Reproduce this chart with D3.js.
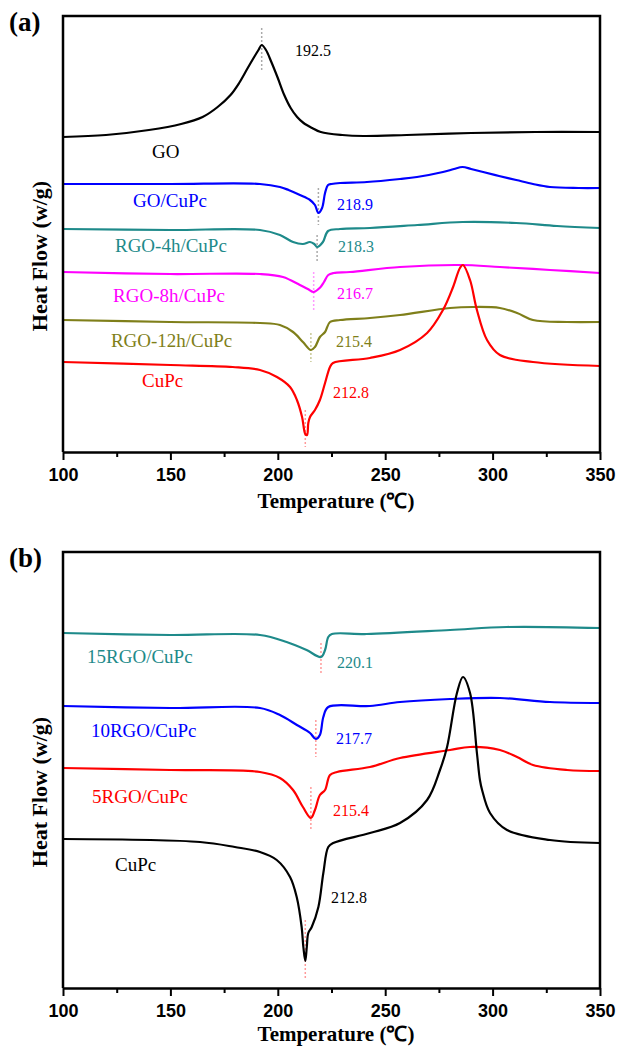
<!DOCTYPE html>
<html>
<head>
<meta charset="utf-8">
<script src="https://cdn.jsdelivr.net/npm/d3@7"></script>
<style>
body { margin: 0; background: #fff; }
text { font-family: "Liberation Serif", "Times New Roman", serif; }
</style>
</head>
<body>
<script>
// temperature ticks
var xTicks = [100, 150, 200, 250, 300, 350];
var xMinorTicks = [125, 175, 225, 275, 325];

// panel (a) curves: [temperature, heat flow (a.u., offset)]
var goA = [[100,315],[120,317],[140,322],[155,328],[165,335],[172,345],[178,357],[182,369],[186,384],[189,395],[191,402],[192.5,407],[194.5,402],[197,390],[200,374],[203,357],[206,344],[209,335],[212,329],[216,324],[220,320],[230,317],[240,316],[260,317],[290,319],[320,320],[350,320]];
var goCuPcA = [[100,268],[150,268],[191.7,268],[201,265],[205,262],[210.3,257],[215,252],[217.3,247],[218.9,239],[220.6,244],[222,259],[223.4,267],[225,268],[229,269],[241.5,270],[256.9,273],[264.8,275],[276.9,280],[282,283],[286,285],[290,283],[295.6,280],[303,276],[311,272],[318.8,268],[326.7,265],[340,264],[350,264]];
var rgo4hA = [[100,223],[150,222],[191.7,222],[201,217],[207.1,210],[211.7,208],[215,210],[217,208],[218.3,205],[221,210],[223.4,221],[229,223],[242.9,224],[265,227],[286,230],[311,229],[330,226],[350,224]];
var rgo8hA = [[100,180],[150,178],[191.7,178],[202.4,175],[210.3,167],[214,163],[216.7,160],[219.5,164],[221.5,170],[223.5,177],[226,179],[233.6,180],[256.9,185],[284.8,187],[303.4,185],[326.7,182],[350,179]];
var rgo12hA = [[100,132],[150,130],[191.7,129],[201,127],[207.1,120],[211.7,110],[215.4,102],[217.3,105],[219.6,115],[222,120],[224.3,130],[229,132],[242.9,134],[256.9,137],[280.2,144],[290.9,145],[303.4,144],[311.4,139],[318.8,132],[334.6,130],[350,130]];
var cupcA = [[100,90],[150,87],[179,85],[191.7,82],[199.6,75],[205.7,65],[208.9,52],[211.3,35],[212.8,18],[213.6,17],[214.2,29],[215,35],[217.3,42],[219.6,52],[222,69],[224.3,85],[225.7,89],[242.9,94],[256.9,102],[269.5,119],[276.9,142],[281.6,165],[284.8,184],[286.2,187],[289.5,172],[292.7,142],[297.4,112],[303.4,97],[318.8,90],[350,86]];

// panel (b) curves
var rgo15B = [[100,355],[150,353],[191.7,353],[204.1,346],[213.4,338],[220.1,331],[222,338],[223.5,351],[225.2,354],[241.4,354],[280.2,358],[306.6,361],[350,360]];
var rgo10B = [[100,282],[150,280],[191.7,280],[201,273],[208.9,263],[215,255],[217.7,249],[219.6,253],[221.2,271],[223.5,281],[242.9,282],[256.9,286],[280.2,289],[303.4,290],[326.7,286],[350,285]];
var rgo5B = [[100,220],[150,218],[191.7,216],[201,210],[207.1,198],[211.7,181],[215.4,170],[217.3,178],[219.6,193],[222,198],[224.3,213],[227.6,216],[242.9,221],[256.9,230],[280.2,238],[289.5,241],[303.4,238],[311.4,231],[318.8,223],[334.6,218],[350,217]];
var cupcB = [[100,149],[163.8,146],[180,141],[191.7,136],[199.5,128],[205.7,111],[208.8,91],[211.1,61],[211.9,41],[212.8,27],[213.5,41],[214.2,55],[215.8,61],[218.9,81],[221.2,115],[223.5,141],[225.8,145],[242.9,155],[256.9,165],[269.5,188],[275.5,218],[278.8,241],[283.4,295],[286.2,311],[289.5,295],[292.7,235],[294.1,208],[295.1,198],[298.8,175],[306.7,158],[326.7,148],[350,145]];

// sample names and peak temperatures
var namesA = ["GO", "GO/CuPc", "RGO-4h/CuPc", "RGO-8h/CuPc", "RGO-12h/CuPc", "CuPc"];
var peaksA = [192.5, 218.9, 218.3, 216.7, 215.4, 212.8];
var namesB = ["15RGO/CuPc", "10RGO/CuPc", "5RGO/CuPc", "CuPc"];
var peaksB = [220.1, 217.7, 215.4, 212.8];

var svg = d3.select("body").append("svg").attr("width", 619).attr("height", 1046);

function drawPanel(top, bottom, titleY, letter, curves, names, peaks, colors, dotColors, nameAt, peakAt, dotSpan) {
  var x = d3.scaleLinear().domain([100, 350]).range([63, 600]);
  var y = d3.scaleLinear().domain([0, 436]).range([bottom, top]);
  var g = svg.append("g");

  // dotted markers at peak temperature
  g.selectAll("line.dot").data(peaks).enter().append("line")
    .attr("class", "dot")
    .attr("x1", function(d){ return x(d); })
    .attr("x2", function(d){ return x(d); })
    .attr("y1", function(d,i){ return y(dotSpan[i][0]); })
    .attr("y2", function(d,i){ return y(dotSpan[i][1]); })
    .attr("stroke", function(d,i){ return dotColors[i]; })
    .attr("stroke-width", 1.5)
    .attr("stroke-dasharray", "2,2");

  var line = d3.line().x(function(d){ return x(d[0]); }).y(function(d){ return y(d[1]); }).curve(d3.curveCatmullRom.alpha(0.5));
  g.selectAll("path.curve").data(curves).enter().append("path")
    .attr("class", "curve")
    .attr("d", line)
    .attr("fill", "none")
    .attr("stroke", function(d,i){ return colors[i]; })
    .attr("stroke-width", 2.2)
    .attr("stroke-linejoin", "round");

  g.selectAll("text.name").data(names).enter().append("text")
    .attr("class", "name")
    .attr("x", function(d,i){ return x(nameAt[i][0]); })
    .attr("y", function(d,i){ return y(nameAt[i][1]); })
    .attr("fill", function(d,i){ return colors[i]; })
    .style("font-size", "19px")
    .text(function(d){ return d; });

  g.selectAll("text.peak").data(peaks).enter().append("text")
    .attr("class", "peak")
    .attr("x", function(d,i){ return x(peakAt[i][0]); })
    .attr("y", function(d,i){ return y(peakAt[i][1]); })
    .attr("fill", function(d,i){ return colors[i]; })
    .style("font-size", "16px")
    .text(function(d){ return d.toFixed(1); });

  // frame: left, top, right
  g.append("path")
    .attr("d", "M63," + bottom + "V" + top + "H600V" + bottom)
    .attr("fill", "none").attr("stroke", "#000").attr("stroke-width", 2.5);

  var ax = g.append("g").attr("transform", "translate(0," + bottom + ")")
    .call(d3.axisBottom(x).tickValues(xTicks).tickSize(8).tickSizeOuter(0));
  ax.select(".domain").attr("stroke-width", 2.5);
  ax.selectAll(".tick line").attr("stroke-width", 2);
  ax.selectAll("text").attr("dy", null).attr("y", 29)
    .style("font-family", "'Liberation Sans', Arial, sans-serif")
    .style("font-weight", "bold").style("font-size", "18px").attr("fill", "#000");

  var minor = g.append("g").attr("transform", "translate(0," + bottom + ")")
    .call(d3.axisBottom(x).tickValues(xMinorTicks).tickSize(5).tickFormat(""));
  minor.select(".domain").remove();
  minor.selectAll(".tick line").attr("stroke-width", 2);

  g.append("text").attr("x", 336).attr("y", titleY)
    .attr("text-anchor", "middle")
    .style("font-weight", "bold").style("font-size", "21px")
    .text("Temperature (\u2103)");

  g.append("text")
    .attr("transform", "translate(47," + ((top + bottom) / 2 + 22) + ") rotate(-90)")
    .attr("text-anchor", "middle")
    .style("font-weight", "bold").style("font-size", "22px")
    .text("Heat Flow (w/g)");

  g.append("text").attr("x", 9).attr("y", top + 15)
    .style("font-weight", "bold").style("font-size", "27px")
    .text(letter);
}

drawPanel(16, 452, 508, "(a)",
  [goA, goCuPcA, rgo4hA, rgo8hA, rgo12hA, cupcA], namesA, peaksA,
  ["#000000", "#0000ff", "#1e8a8a", "#ff00ff", "#7f7f1a", "#ff0000"],
  ["#aaaaaa", "#aaaaaa", "#aaaaaa", "#ff99ff", "#c8c896", "#ff9a9a"],
  [[141.4,294],[132.6,245],[124.2,200],[123.3,150],[122.3,105],[136.8,65]],
  [[208,396],[227.6,242],[228,200],[227.6,153],[227.1,105],[225.7,54]],
  [[424,380],[264,227],[217,189],[180,142],[119,90],[42,5]]);

drawPanel(552, 988, 1041, "(b)",
  [rgo15B, rgo10B, rgo5B, cupcB], namesB, peaksB,
  ["#1e8a8a", "#0000ff", "#ff0000", "#000000"],
  ["#ff9a9a", "#ff9a9a", "#ff9a9a", "#ff9a9a"],
  [[111.2,325],[113,251],[113.5,185],[124.2,117]],
  [[227.6,320],[227.1,244],[225.7,172],[224.8,85]],
  [[345,313],[268,231],[201,158],[68,8]]);
</script>
</body>
</html>
